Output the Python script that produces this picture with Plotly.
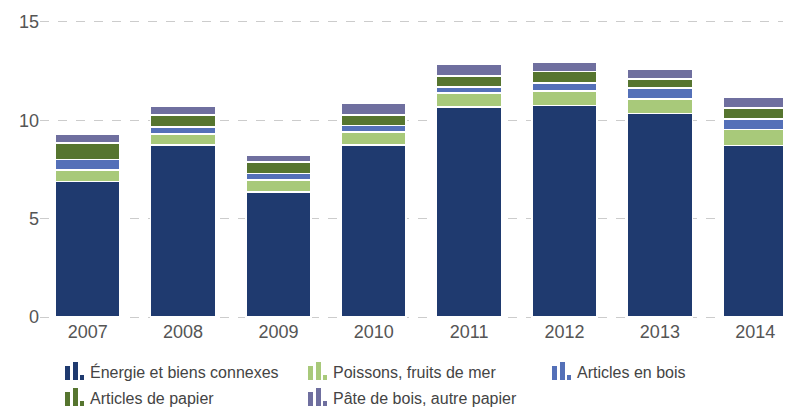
import plotly.graph_objects as go

years = ['2007', '2008', '2009', '2010', '2011', '2012', '2013', '2014']

# milliards de dollars
energie = [6.90, 8.75, 6.36, 8.75, 10.69, 10.75, 10.35, 8.72]
poissons = [0.57, 0.56, 0.61, 0.65, 0.69, 0.75, 0.74, 0.81]
bois = [0.53, 0.34, 0.32, 0.34, 0.32, 0.41, 0.55, 0.55]
papier = [0.84, 0.61, 0.58, 0.52, 0.55, 0.56, 0.47, 0.54]
pate = [0.46, 0.48, 0.34, 0.61, 0.62, 0.49, 0.49, 0.54]

series = [
    ('Énergie et biens connexes', energie, '#1f3a6f'),
    ('Poissons, fruits de mer', poissons, '#a8c97a'),
    ('Articles en bois', bois, '#5470b8'),
    ('Articles de papier', papier, '#56752f'),
    ('Pâte de bois, autre papier', pate, '#6f6f9f'),
]

# the page body adds an 8px margin, so the figure is drawn 8px smaller
OFF = 8
W, H = 791 - OFF, 407 - OFF
# plot area in page pixels (small pad so the 0 and 15 gridlines show)
L, R, T, B = 40, 791, 20, 319


def px_x(x):
    return (x - L) / (R - L)


def px_y(y):
    return (B - y) / (B - T)


fig = go.Figure()
for name, vals, color in series:
    fig.add_trace(go.Bar(
        x=years, y=vals, name=name,
        marker=dict(color=color, line=dict(color='white', width=1.5)),
        showlegend=False,
    ))

# custom legend with small bar-chart icons
legend_pos = [(65, 372), (308, 372), (552, 372), (65, 398), (308, 398)]
for (name, _, color), (lx, ly) in zip(series, legend_pos):
    for dx0, dx1, top in [(0, 5, 6), (8, 13, 10), (15, 19, -3)]:
        fig.add_shape(
            type='rect', xref='paper', yref='paper',
            x0=px_x(lx + dx0), x1=px_x(lx + dx1),
            y0=px_y(ly + 8), y1=px_y(ly - top),
            fillcolor=color, line=dict(width=0),
        )
    fig.add_annotation(
        x=px_x(lx + 23), y=px_y(ly), xref='paper', yref='paper',
        text=name, showarrow=False, xanchor='left', yanchor='middle',
        font=dict(size=16, color='#444444'),
    )

fig.update_layout(
    width=W, height=H,
    margin=dict(l=L - OFF, r=791 - R, t=T - OFF, b=407 - B),
    barmode='stack',
    bargap=0.32,
    plot_bgcolor='white',
    paper_bgcolor='white',
    font=dict(family='Liberation Sans, Arial, sans-serif', color='#555555'),
)
fig.update_xaxes(
    range=[-0.5, 7.375], showgrid=False, showline=False, ticks='',
    tickfont=dict(size=18, color='#555555'),
)
fig.update_yaxes(
    range=[-0.1, 15.1], tickvals=[0, 5, 10, 15],
    showgrid=True, gridcolor='#cccccc', griddash='dash', gridwidth=1,
    zeroline=False, showline=False, ticks='',
    tickfont=dict(size=18, color='#555555'),
)

fig.write_html('out.html')
